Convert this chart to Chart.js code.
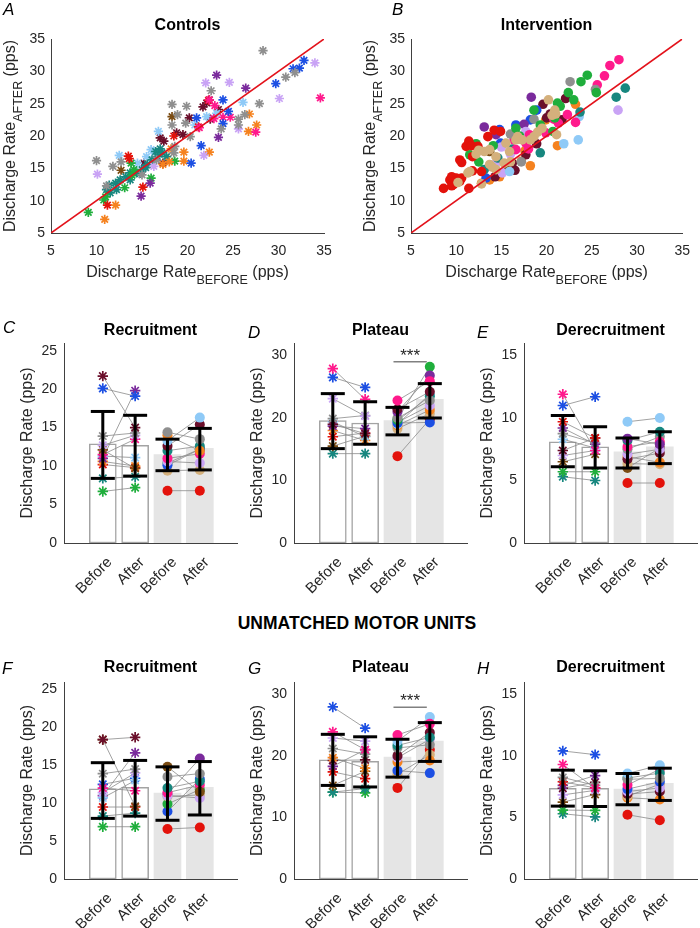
<!DOCTYPE html>
<html>
<head>
<meta charset="utf-8">
<script src="https://cdn.jsdelivr.net/npm/chart.js@4.4.0/dist/chart.umd.min.js"></script>
<style>
  html, body { margin: 0; padding: 0; background: #fff; }
  #fig { position: relative; width: 700px; height: 928px; overflow: hidden;
         font-family: "Liberation Sans", Arial, Helvetica, sans-serif; }
  canvas { position: absolute; }
  .tag { position: absolute; font-style: italic; font-size: 17px; line-height: 17px; color: #000; }
  #head { position: absolute; left: 0; width: 714px; top: 612px; text-align: center;
          font-weight: bold; font-size: 17.5px; line-height: 22px; color: #000; }
</style>
</head>
<body>
<div id="fig">
  <canvas id="cA" width="350" height="300" style="left:0;top:0"></canvas>
  <canvas id="cB" width="350" height="300" style="left:350px;top:0"></canvas>
  <canvas id="cC" width="240" height="300" style="left:0;top:310px"></canvas>
  <canvas id="cD" width="240" height="300" style="left:230px;top:310px"></canvas>
  <canvas id="cE" width="240" height="300" style="left:460px;top:310px"></canvas>
  <canvas id="cF" width="240" height="278" style="left:0;top:650px"></canvas>
  <canvas id="cG" width="240" height="278" style="left:230px;top:650px"></canvas>
  <canvas id="cH" width="240" height="278" style="left:460px;top:650px"></canvas>

  <div class="tag" style="left:3px;top:1px">A</div>
  <div class="tag" style="left:392px;top:1px">B</div>
  <div class="tag" style="left:3px;top:319px">C</div>
  <div class="tag" style="left:248px;top:324px">D</div>
  <div class="tag" style="left:477px;top:324px">E</div>
  <div class="tag" style="left:2px;top:660px">F</div>
  <div class="tag" style="left:248px;top:660px">G</div>
  <div class="tag" style="left:477px;top:660px">H</div>
  <div id="head">UNMATCHED MOTOR UNITS</div>
</div>

<script>
/* ---------- participants / colours ---------- */
// 0 maroon, 1 blue, 2 gray, 3 lilac, 4 brown, 5 purple, 6 orange,
// 7 red, 8 teal, 9 green, 10 light blue, 11 pink, 12 tan
const PALETTE = ['#6b0f2b','#1c4fe3','#8f8f8f','#c9a3f5','#7a4b12','#7a2a9c','#f5821f',
                 '#e3120b','#17877f','#1fae3c','#8fcaf7','#ff1a8c','#d4b07c'];

/* ---------- A: controls, before vs after ---------- */
const A_UNITS  = [2, 3, 5, 1, 11, 6, 7, 9, 8, 10, 0, 4];
const A_BEFORE = [
  [28.3,30.8,31.8,27.9,25.6,25.6,22.6,23.7,20.3,18.3,19.9,18.9,18.3,19.8,10.0,11.8,12.7,11.1,15.0,18.5,18.6,16.6,26.3],
  [34.0,30.1,24.6,22.0,25.6,21.8,10.1,16.3],
  [23.2,26.4,23.4,15.9,14.9],
  [32.8,32.3,31.6,29.7,24.5,23.9,23.9,21.0,21.5,20.4],
  [34.6,27.5,24.7,23.9,22.9,21.3,22.4,23.0],
  [26.8,26.7,27.6,22.4,19.6,19.6,18.0,17.3,10.9,12.1,18.2],
  [13.5,15.1,11.2,18.5,21.2,22.3,13.6],
  [9.1,10.8,13.1,13.8,14.1,18.6,16.0,11.0,13.9],
  [11.1,11.5,12.1,12.6,13.2,13.7,14.4,15.0,15.6,16.1,16.7,17.2,17.7,12.2,13.7,16.5,11.4,14.8,15.4,17.0],
  [26.1,22.1,23.2,16.8,16.0,15.5,12.5,20.8,16.4,14.5],
  [17.0,17.4,18.8,19.5,20.2,21.7,22.1,22.4,23.4,22.5,17.3,15.2],
  [18.3,12.7]
];
const A_AFTER = [
  [33.2,29.1,29.8,25.0,22.6,21.7,27.0,21.1,19.9,24.9,24.6,23.3,21.7,22.0,16.2,15.3,16.0,12.3,14.0,17.4,18.4,16.3,23.3],
  [31.3,25.8,28.3,28.2,21.1,17.0,14.1,15.3],
  [29.4,27.4,19.8,12.7,10.7],
  [31.7,30.5,30.4,28.1,23.8,25.6,21.9,22.8,18.5,15.8],
  [25.9,20.6,22.9,22.9,22.7,21.3,25.6,24.7],
  [23.4,20.7,21.7,17.5,17.5,16.1,16.0,15.6,7.1,9.3,18.0],
  [16.9,12.1,9.3,20.0,21.4,25.5,16.5],
  [8.2,10.1,12.0,15.8,14.8,16.1,13.5,10.6,13.9],
  [11.7,11.2,12.7,13.2,13.7,13.2,14.3,14.8,15.6,16.3,16.8,17.4,16.8,11.7,14.3,17.6,12.4,14.2,15.1,18.0],
  [25.2,23.0,23.5,20.7,17.9,16.8,17.0,21.7,17.5,15.8],
  [19.7,19.2,20.5,20.2,22.8,24.5,25.1,25.6,24.1,22.6,15.8,15.8],
  [23.0,14.7]
];

/* ---------- B: intervention, before vs after ---------- */
const B_UNITS  = [12, 7, 9, 2, 11, 8, 10, 3, 5, 1, 0, 6, 4];
const B_BEFORE = [
  [20.2,20.9,21.1,19.5,18.2,16.8,17.3,15.9,14.4,13.7,13.1,12.2,11.5,11.3,10.2,12.8,13.7,14.4,15.3,16.6,18.6,15.5,20.6,21.0,19.0,16.0,14.0,12.5],
  [8.6,9.3,9.7,10.0,10.4,9.5,10.6,9.8,10.4,10.6,11.4,11.1,11.4,11.7,11.8,12.4,13.5,14.2,14.9,12.8,9.5,11.8],
  [24.5,23.8,22.4,23.0,25.5,21.2,21.5,18.6,16.6,12.2,11.5,12.5,14.1,19.3,20.7,20.9,17.0],
  [22.6,25.4,16.0,17.2,18.6],
  [28.0,27.0,26.4,25.6,22.3,23.2,21.3,19.9,18.1,17.7,16.4,16.6,20.8,18.0],
  [28.7,27.7,23.7,19.3,13.1,14.6,16.2],
  [23.6,23.5,21.9,15.9,17.1],
  [27.9,14.4,17.7,15.1,15.0,16.0],
  [18.3,13.1,14.4,17.5],
  [18.9,16.6,14.8,18.2,13.3,14.9],
  [22.1,19.6,20.4,21.7,18.9,17.7,16.5,14.3,16.2,20.0],
  [23.2,21.2,18.2,14.8,13.7,12.8,17.2,19.9,17.6],
  [16.5,13.7,15.8]
];
const B_AFTER = [
  [25.6,24.0,20.2,21.2,19.4,19.9,19.4,17.6,16.8,17.9,17.6,17.2,14.5,14.3,12.8,12.6,15.6,14.8,15.8,19.4,19.9,18.9,23.2,23.4,20.6,16.0,15.2,17.8],
  [11.9,13.2,12.5,13.5,13.0,13.7,13.5,13.0,16.3,15.9,11.9,18.4,19.2,18.5,16.8,18.4,19.9,20.9,20.7,14.5,12.3,14.6],
  [29.4,28.4,26.7,25.6,26.7,25.1,24.6,24.0,21.2,18.8,17.1,16.0,18.5,21.7,20.7,22.8,20.0],
  [28.4,27.2,20.3,16.0,22.6],
  [31.8,30.9,29.3,27.9,23.3,22.1,22.0,20.5,20.2,18.9,19.4,17.9,22.6,18.0],
  [27.4,26.0,23.7,17.4,14.8,16.6,18.0],
  [23.0,19.4,18.8,14.5,19.5],
  [24.0,15.8,20.7,14.3,18.3,17.2],
  [26.0,21.4,20.2,21.8],
  [24.0,21.7,21.0,22.5,13.5,18.9],
  [25.8,24.9,23.4,22.5,18.8,17.1,14.7,13.7,15.8,22.8],
  [24.9,18.5,15.4,13.7,13.2,12.7,16.1,22.5,17.7],
  [20.0,17.6,15.0]
];

const SCATTER_TICKS = [5, 10, 15, 20, 25, 30, 35];
const IDENTITY = [5, 35];
const X_TITLE = ['Discharge Rate', 'BEFORE', ' (pps)'];
const Y_TITLE = ['Discharge Rate', 'AFTER', ' (pps)'];
const BAR_Y_TITLE = ['Discharge Rate (pps)'];
const CATS = ['Before', 'After', 'Before', 'After'];

/* ---------- C-E: matched motor units ---------- */
const C_BARS = [12.9, 12.7, 11.5, 12.3];
const C_LO = [8.4, 8.7, 9.4, 9.5];
const C_HI = [17.1, 16.6, 13.5, 14.9];
const C_CTRL_UNITS = [0, 1, 2, 3, 4, 11, 5, 6, 7, 10, 8, 9];
const C_CTRL_BEFORE = [21.7, 20.1, 13.9, 12.7, 12.1, 11.5, 11.0, 10.6, 10.2, 11.3, 8.4, 6.7];
const C_CTRL_AFTER = [15.0, 19.1, 14.3, 14.0, 9.7, 13.5, 19.8, 10.0, 9.8, 11.1, 8.6, 7.2];
const C_INT_UNITS = [2, 6, 10, 0, 8, 11, 3, 1, 9, 12, 7];
const C_INT_BEFORE = [14.4, 14.0, 13.3, 12.6, 12.0, 11.0, 10.6, 10.1, 10.4, 9.4, 6.8];
const C_INT_AFTER = [13.5, 12.0, 16.3, 15.4, 12.6, 11.6, 10.4, 12.2, 12.2, 9.5, 6.8];

const D_BARS = [19.6, 19.2, 19.6, 23.0];
const D_LO = [15.1, 15.8, 17.3, 20.0];
const D_HI = [23.9, 22.6, 21.7, 25.5];
const D_CTRL_UNITS = [11, 1, 3, 2, 0, 5, 7, 10, 6, 4, 8];
const D_CTRL_BEFORE = [27.9, 26.5, 23.1, 19.9, 19.0, 18.7, 17.0, 19.4, 18.0, 15.5, 14.3];
const D_CTRL_AFTER = [23.0, 24.9, 20.3, 20.4, 17.5, 18.3, 17.6, 17.0, 16.4, 17.1, 14.3];
const D_INT_UNITS = [11, 0, 5, 2, 9, 8, 1, 3, 10, 6, 12, 7];
const D_INT_BEFORE = [22.8, 21.4, 21.0, 20.0, 19.8, 19.6, 19.2, 19.3, 19.0, 18.8, 18.3, 13.9];
const D_INT_AFTER = [25.9, 24.2, 26.8, 22.8, 28.2, 23.5, 19.3, 22.0, 23.8, 21.3, 20.7, 19.8];
const D_SIG = [3, 4, 29.0];

const E_BARS = [8.1, 7.7, 7.3, 7.7];
const E_LO = [6.1, 6.0, 6.0, 6.35];
const E_HI = [10.2, 9.3, 8.4, 8.9];
const E_CTRL_UNITS = [11, 1, 7, 5, 2, 10, 0, 3, 4, 9, 8];
const E_CTRL_BEFORE = [11.9, 11.0, 9.7, 9.2, 8.75, 8.3, 7.4, 7.0, 6.5, 5.7, 5.3];
const E_CTRL_AFTER = [7.4, 11.7, 8.4, 7.9, 8.0, 7.6, 8.4, 7.4, 7.1, 5.7, 5.0];
const E_INT_UNITS = [10, 5, 8, 11, 2, 3, 0, 6, 12, 4, 7];
const E_INT_BEFORE = [9.7, 8.35, 8.2, 7.7, 7.5, 7.1, 6.7, 6.9, 6.35, 6.0, 4.8];
const E_INT_AFTER = [10.0, 7.9, 8.9, 8.1, 8.5, 7.5, 7.2, 6.45, 6.3, 7.6, 4.8];

/* ---------- F-H: unmatched motor units ---------- */
const F_BARS = [11.9, 12.1, 11.35, 12.1];
const F_LO = [8.0, 8.3, 7.75, 8.45];
const F_HI = [15.35, 15.65, 14.8, 15.5];
const F_CTRL_UNITS = [0, 4, 2, 11, 3, 10, 7, 1, 5, 8, 9];
const F_CTRL_BEFORE = [18.4, 18.4, 13.9, 12.0, 11.4, 10.7, 9.5, 12.5, 11.0, 8.3, 6.9];
const F_CTRL_AFTER = [18.7, 9.6, 14.5, 11.65, 14.0, 13.0, 9.5, 13.3, 16.65, 8.7, 6.9];
const F_INT_UNITS = [4, 2, 8, 11, 3, 12, 9, 5, 1, 7];
const F_INT_BEFORE = [14.8, 13.5, 12.0, 11.4, 11.0, 10.9, 9.9, 11.2, 8.9, 6.6];
const F_INT_AFTER = [11.5, 13.9, 12.9, 12.4, 10.7, 11.1, 11.8, 15.9, 13.2, 6.8];

const G_BARS = [19.35, 19.1, 19.8, 22.4];
const G_LO = [15.2, 14.95, 16.55, 19.1];
const G_HI = [23.5, 23.1, 22.7, 25.4];
const G_CTRL_UNITS = [1, 11, 3, 2, 6, 0, 5, 7, 4, 8, 9];
const G_CTRL_BEFORE = [27.95, 23.9, 22.9, 21.2, 19.7, 19.25, 18.3, 17.4, 15.2, 14.1, 14.1];
const G_CTRL_AFTER = [24.5, 21.0, 22.4, 20.3, 18.0, 19.35, 21.0, 16.3, 17.5, 14.7, 14.0];
const G_INT_UNITS = [11, 10, 8, 2, 0, 3, 6, 1, 12, 7];
const G_INT_BEFORE = [23.4, 22.4, 21.7, 21.3, 20.0, 19.7, 19.0, 17.6, 17.0, 14.8];
const G_INT_AFTER = [25.2, 26.3, 23.0, 21.8, 23.8, 22.7, 19.25, 17.2, 20.2, 21.0];
const G_SIG = [3, 4, 27.9];

const H_BARS = [7.37, 7.37, 7.3, 7.77];
const H_LO = [5.92, 5.89, 6.03, 6.38];
const H_HI = [8.84, 8.79, 8.57, 9.0];
const H_CTRL_UNITS = [1, 11, 2, 7, 5, 0, 3, 4, 9, 8];
const H_CTRL_BEFORE = [10.4, 9.3, 8.25, 7.9, 7.6, 7.37, 6.83, 6.24, 5.6, 5.3];
const H_CTRL_AFTER = [10.1, 7.37, 7.6, 7.4, 8.4, 7.85, 7.2, 6.86, 5.57, 5.04];
const H_INT_UNITS = [10, 2, 8, 11, 1, 3, 0, 12, 6, 7];
const H_INT_BEFORE = [8.57, 8.1, 8.2, 7.63, 7.3, 7.1, 6.9, 6.72, 6.6, 5.22];
const H_INT_AFTER = [9.24, 8.17, 8.6, 8.92, 7.9, 7.4, 7.1, 7.7, 6.46, 4.77];

const TICKS_REC = [0, 5, 10, 15, 20, 25];
const TICKS_PLAT = [0, 10, 20, 30];
const TICKS_DEREC = [0, 5, 10, 15];

/* ---------- Chart defaults ---------- */
const FAMILY = '"Liberation Sans", Arial, Helvetica, sans-serif';
Chart.defaults.font.family = FAMILY;
Chart.defaults.color = '#262626';
Chart.defaults.animation = false;
Chart.defaults.responsive = false;
Chart.defaults.devicePixelRatio = 1;
Chart.defaults.events = [];
Chart.defaults.layout.autoPadding = false;   // big error-bar caps must not shrink the plot
Chart.defaults.plugins.legend.display = false;
Chart.defaults.plugins.tooltip.enabled = false;

// axis titles with subscripts, rotated category labels, significance bar
function rich(ctx, parts, cx, cy, rot) {
  ctx.save();
  ctx.translate(cx, cy);
  ctx.rotate(rot);
  ctx.textBaseline = 'alphabetic';
  ctx.textAlign = 'left';
  const fonts = parts.map((p, i) => (i % 2 ? '12.5px ' : '16px ') + FAMILY);
  let total = 0;
  const w = parts.map((p, i) => { ctx.font = fonts[i]; const m = ctx.measureText(p).width; total += m; return m; });
  let x = -total / 2;
  parts.forEach((p, i) => { ctx.font = fonts[i]; ctx.fillText(p, x, i % 2 ? 7 : 0); x += w[i]; });
  ctx.restore();
}
const axisText = {
  id: 'axisText',
  afterDraw(chart, args, o) {
    const { ctx, chartArea: a } = chart;
    const xs = chart.scales.x, ys = chart.scales.y;
    ctx.save();
    ctx.fillStyle = '#262626';
    if (o.x) rich(ctx, o.x, (a.left + a.right) / 2, a.bottom + o.xGap, 0);
    if (o.y) rich(ctx, o.y, a.left - o.yGap, (a.top + a.bottom) / 2, -Math.PI / 2);
    if (o.cats) {
      ctx.font = '15px ' + FAMILY;
      ctx.textAlign = 'right';
      ctx.textBaseline = 'middle';
      o.cats.forEach((c, i) => {
        ctx.save();
        ctx.translate(xs.getPixelForValue(i + 1) + 7, a.bottom + 17);
        ctx.rotate(-Math.PI / 4);
        ctx.fillText(c, 0, 0);
        ctx.restore();
      });
    }
    if (o.sig) {
      const x1 = xs.getPixelForValue(o.sig[0]) - 4, x2 = xs.getPixelForValue(o.sig[1]) - 3;
      const y = ys.getPixelForValue(o.sig[2]);
      ctx.strokeStyle = '#808080'; ctx.lineWidth = 1.5;
      ctx.beginPath(); ctx.moveTo(x1, y); ctx.lineTo(x2, y); ctx.stroke();
      ctx.font = '17px ' + FAMILY; ctx.textAlign = 'center'; ctx.textBaseline = 'alphabetic';
      ctx.fillText('***', (x1 + x2) / 2, y - 1);
    }
    ctx.restore();
  }
};

function axis(min, max, ticks, pad, size) {
  return {
    type: 'linear', min, max, offset: false,
    afterBuildTicks: s => { s.ticks = ticks.map(v => ({ value: v })); },
    afterFit: s => { if (s.isHorizontal()) s.height = size; else s.width = size; },
    grid: { display: false, drawTicks: false, offset: false },
    border: { color: '#404040', width: 1 },
    ticks: { padding: pad, font: { size: 14 }, color: '#262626' }
  };
}
function titleOpt(text, top, bottom) {
  return { display: true, text, fullSize: false, color: '#000',
           font: { size: 16, weight: 'bold' }, padding: { top, bottom } };
}

/* ---------- A / B scatter ---------- */
function scatterPanel(id, title, units, before, after, marker, yWidth, padRight) {
  const star = marker === 'star';
  const ds = units.map((u, i) => ({
    data: before[i].map((b, j) => ({ x: b, y: after[i][j] })),
    pointStyle: marker,
    pointRadius: star ? 4.6 : 4.8,
    pointBorderWidth: star ? 1.7 : 0,
    pointBorderColor: PALETTE[u],
    pointBackgroundColor: PALETTE[u],
    clip: false
  }));
  ds.push({ type: 'line', data: IDENTITY.map(v => ({ x: v, y: v })), borderColor: '#e3121b',
            borderWidth: 1.6, pointRadius: 0, order: -1 });
  new Chart(document.getElementById(id), {
    type: 'scatter',
    data: { datasets: ds },
    options: {
      layout: { padding: { right: padRight } },
      scales: {
        x: axis(5, 35, SCATTER_TICKS, 10, 67),
        y: axis(5, 35, SCATTER_TICKS, 6, yWidth)
      },
      plugins: {
        title: titleOpt(title, 16.4, 3.4),
        axisText: { x: X_TITLE, y: Y_TITLE, xGap: 44, yGap: 36 }
      }
    },
    plugins: [axisText]
  });
}

/* ---------- C-H bars + paired units ---------- */
function pairs(units, before, after, x0, marker) {
  const star = marker === 'star';
  return units.map((u, i) => ({
    type: 'line',
    order: 1,
    data: [{ x: x0, y: before[i] }, { x: x0 + 1, y: after[i] }],
    borderColor: '#8a8a8a', borderWidth: 0.8,
    pointStyle: marker, pointRadius: star ? 5.2 : 5,
    pointBorderWidth: star ? 1.7 : 0,
    pointBorderColor: PALETTE[u], pointBackgroundColor: PALETTE[u],
    clip: false
  }));
}
function barPanel(id, title, yMax, yTicks, bars, lo, hi, ctrl, int, sig, row2) {
  const ds = [{
    type: 'bar', order: 2,
    data: bars.map((v, i) => ({ x: i + 1, y: v })),
    backgroundColor: ['#ffffff', '#ffffff', '#e5e5e5', '#e5e5e5'],
    borderColor: ['#a3a3a3', '#a3a3a3', '#e5e5e5', '#e5e5e5'],
    borderWidth: [1.5, 1.5, 0, 0],
    borderSkipped: false, barThickness: 27, grouped: false
  }, {
    type: 'line', order: 0,
    data: lo.flatMap((v, i) => [{ x: i + 1, y: v }, { x: i + 1, y: hi[i] }, { x: i + 1, y: null }]),
    borderColor: '#000', borderWidth: 3, spanGaps: false,
    pointStyle: 'line', pointRadius: 12, pointBorderWidth: 3, pointBorderColor: '#000', clip: false
  }].concat(pairs(ctrl[0], ctrl[1], ctrl[2], 1, 'star'), pairs(int[0], int[1], int[2], 3, 'circle'));

  // category labels are drawn rotated by axisText
  const xAxis = axis(-0.2, 5.15, [1, 2, 3, 4], 11, row2 ? 49 : 67);
  xAxis.ticks.display = false;
  new Chart(document.getElementById(id), {
    type: 'bar',
    data: { datasets: ds },
    options: {
      layout: { padding: { right: 3 } },
      scales: { x: xAxis, y: axis(0, yMax, yTicks, 7, 64) },
      plugins: {
        title: row2 ? titleOpt(title, 8.4, 4.4) : titleOpt(title, 11.4, 2.4),
        axisText: { y: BAR_Y_TITLE, yGap: 32, cats: CATS, sig }
      }
    },
    plugins: [axisText]
  });
}

scatterPanel('cA', 'Controls', A_UNITS, A_BEFORE, A_AFTER, 'star', 51, 26);
scatterPanel('cB', 'Intervention', B_UNITS, B_BEFORE, B_AFTER, 'circle', 61, 15);

barPanel('cC', 'Recruitment', 26, TICKS_REC, C_BARS, C_LO, C_HI,
         [C_CTRL_UNITS, C_CTRL_BEFORE, C_CTRL_AFTER], [C_INT_UNITS, C_INT_BEFORE, C_INT_AFTER], null, false);
barPanel('cD', 'Plateau', 32, TICKS_PLAT, D_BARS, D_LO, D_HI,
         [D_CTRL_UNITS, D_CTRL_BEFORE, D_CTRL_AFTER], [D_INT_UNITS, D_INT_BEFORE, D_INT_AFTER], D_SIG, false);
barPanel('cE', 'Derecruitment', 16, TICKS_DEREC, E_BARS, E_LO, E_HI,
         [E_CTRL_UNITS, E_CTRL_BEFORE, E_CTRL_AFTER], [E_INT_UNITS, E_INT_BEFORE, E_INT_AFTER], null, false);
barPanel('cF', 'Recruitment', 26, TICKS_REC, F_BARS, F_LO, F_HI,
         [F_CTRL_UNITS, F_CTRL_BEFORE, F_CTRL_AFTER], [F_INT_UNITS, F_INT_BEFORE, F_INT_AFTER], null, true);
barPanel('cG', 'Plateau', 32, TICKS_PLAT, G_BARS, G_LO, G_HI,
         [G_CTRL_UNITS, G_CTRL_BEFORE, G_CTRL_AFTER], [G_INT_UNITS, G_INT_BEFORE, G_INT_AFTER], G_SIG, true);
barPanel('cH', 'Derecruitment', 16, TICKS_DEREC, H_BARS, H_LO, H_HI,
         [H_CTRL_UNITS, H_CTRL_BEFORE, H_CTRL_AFTER], [H_INT_UNITS, H_INT_BEFORE, H_INT_AFTER], null, true);
</script>
</body>
</html>
